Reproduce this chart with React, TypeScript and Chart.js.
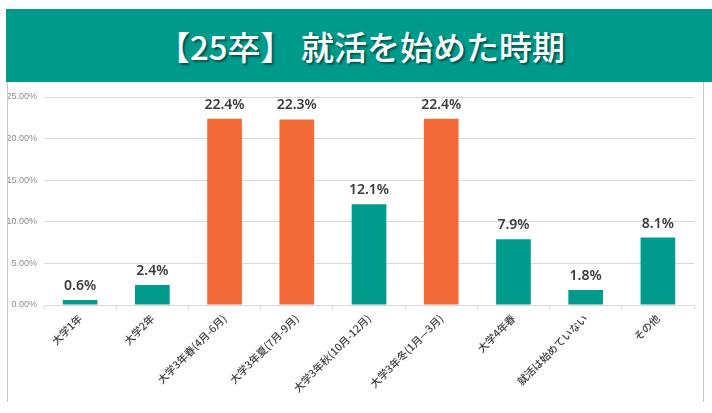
import React, { useEffect, useRef } from "react";
import { Chart, registerables } from "chart.js";

Chart.register(...registerables);

const TITLE = "【25卒】 就活を始めた時期";
const categories = [
  "大学1年",
  "大学2年",
  "大学3年春(4月-6月)",
  "大学3年夏(7月-9月)",
  "大学3年秋(10月-12月)",
  "大学3年冬(1月—3月)",
  "大学4年春",
  "就活は始めていない",
  "その他",
];
const values = [0.6, 2.4, 22.4, 22.3, 12.1, 22.4, 7.9, 1.8, 8.1];
const highlighted = [false, false, true, true, false, true, false, false, false];
const yTickValues = [0, 5, 10, 15, 20, 25];

const TEAL = "#009B8C";
const ORANGE = "#F26A38";

const valueLabelPlugin = {
  id: "valueLabels",
  afterDatasetsDraw(chart: any) {
    const ctx = chart.ctx;
    const meta = chart.getDatasetMeta(0);
    ctx.save();
    ctx.fillStyle = "#3a3a3a";
    ctx.font = "600 14px 'Noto Sans', 'Liberation Sans', sans-serif";
    ctx.textAlign = "center";
    ctx.textBaseline = "bottom";
    meta.data.forEach((bar: any, i: number) => {
      ctx.fillText(values[i].toFixed(1) + "%", bar.x, bar.y - 7);
    });
    ctx.restore();
  },
};

function BarChart() {
  const ref = useRef<HTMLCanvasElement>(null);
  useEffect(() => {
    if (!ref.current) return;
    const chart = new Chart(ref.current, {
      type: "bar",
      data: {
        labels: categories,
        datasets: [
          {
            data: values,
            backgroundColor: highlighted.map((h) => (h ? ORANGE : TEAL)),
            barPercentage: 0.48,
            categoryPercentage: 1,
          },
        ],
      },
      options: {
        animation: false,
        responsive: false,
        maintainAspectRatio: false,
        layout: { padding: { top: 14, right: 10, left: 0, bottom: 0 } },
        plugins: {
          legend: { display: false },
          tooltip: { enabled: false },
        },
        scales: {
          x: {
            grid: {
              display: true,
              drawOnChartArea: false,
              drawTicks: true,
              tickLength: 4,
              color: "#d9d9d9",
              offset: true,
            },
            border: { display: true, color: "#d9d9d9" },
            ticks: {
              maxRotation: 45,
              minRotation: 45,
              autoSkip: false,
              color: "#404040",
              padding: 3,
              font: { size: 10.5, weight: "500", family: "'Noto Sans CJK JP', sans-serif" },
            },
            afterFit: (s: any) => {
              s.height = 96;
            },
          },
          y: {
            min: 0,
            max: 25,
            afterBuildTicks: (s: any) => {
              s.ticks = yTickValues.map((v) => ({ value: v }));
            },
            grid: { color: "#d9d9d9", drawTicks: false },
            border: { display: false },
            ticks: {
              color: "#8c8c8c",
              padding: 7,
              font: { size: 9, family: "'Liberation Sans', sans-serif" },
              callback: (v: any) => Number(v).toFixed(2) + "%",
            },
            afterFit: (s: any) => {
              s.width = 36;
            },
          },
        },
      },
      plugins: [valueLabelPlugin],
    });
    return () => chart.destroy();
  }, []);
  return <canvas ref={ref} width={696} height={318} style={{ display: "block" }} />;
}

export default function App() {
  return (
    <div>
      <div
        style={{
          position: "fixed",
          left: 6,
          top: 9,
          width: 706,
          height: 73,
          background: "#009A8B",
          display: "flex",
          alignItems: "center",
          justifyContent: "center",
        }}
      >
        <span
          style={{
            color: "#ffffff",
            fontFamily: "'Noto Sans CJK JP', sans-serif",
            fontSize: 33,
            fontWeight: 500,
            textShadow: "2px 2px 2px rgba(0,0,0,0.45)",
            marginLeft: 4,
          }}
        >
          {TITLE}
        </span>
      </div>
      <div
        style={{
          position: "fixed",
          left: 7,
          top: 82,
          width: 697,
          height: 320,
          borderLeft: "1px solid #c8c8c8",
          borderRight: "1px solid #c8c8c8",
          boxSizing: "border-box",
          background: "#ffffff",
        }}
      />
      <div style={{ position: "fixed", left: 8, top: 83 }}>
        <BarChart />
      </div>
    </div>
  );
}
